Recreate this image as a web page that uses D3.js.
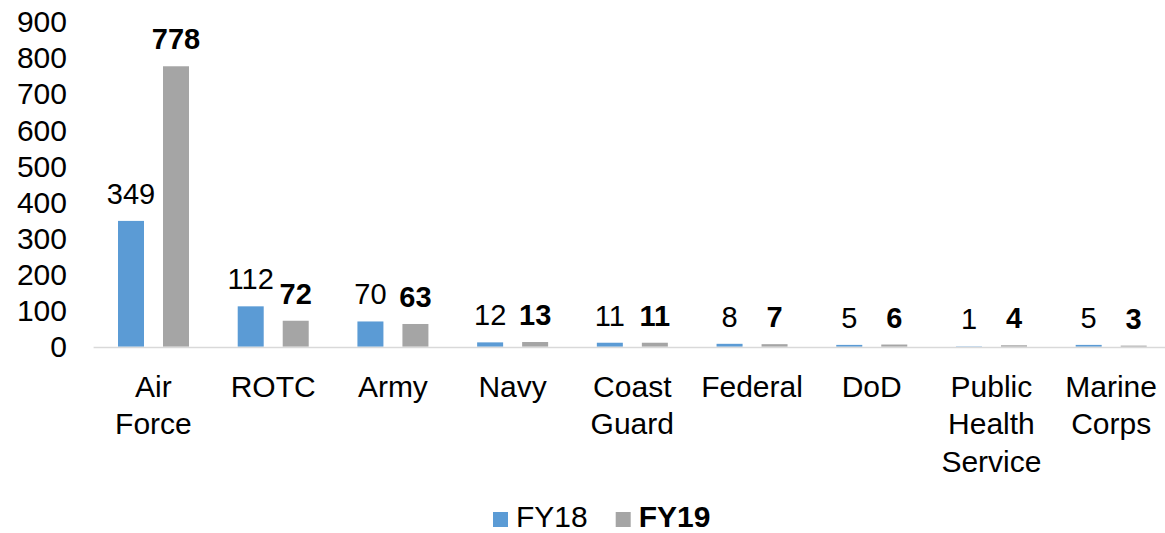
<!DOCTYPE html>
<html>
<head>
<meta charset="utf-8">
<script src="https://cdn.jsdelivr.net/npm/d3@7"></script>
<style>
  body { margin: 0; background: #fff; }
  text { font-family: Arial, "Liberation Sans", sans-serif; fill: #000; }
</style>
</head>
<body>
<script>
const categories = ["Air Force", "ROTC", "Army", "Navy", "Coast Guard", "Federal", "DoD", "Public Health Service", "Marine Corps"];
const fy18 = [349, 112, 70, 12, 11, 8, 5, 1, 5];
const fy19 = [778, 72, 63, 13, 11, 7, 6, 4, 3];
const seriesNames = ["FY18", "FY19"];
const yTicks = [0, 100, 200, 300, 400, 500, 600, 700, 800, 900];

const width = 1165, height = 533;
const colors = { FY18: "#5B9BD5", FY19: "#A5A5A5" };

const svg = d3.select("body").append("svg")
    .attr("width", width)
    .attr("height", height);

const x = d3.scaleBand().domain(categories).range([93.6, 1171]);
const y = d3.scaleLinear().domain([0, 900]).range([346.7, 22.3]);
// two bars of 26px with a 19px gap inside each category
const xs = d3.scaleBand().domain(seriesNames).range([24.4, 95.4]).paddingInner(19 / 45);

// y tick labels (no axis line, no gridlines)
const yAxis = svg.append("g")
    .attr("transform", "translate(67,0)")
    .call(d3.axisLeft(y).tickValues(yTicks).tickSize(0).tickPadding(0));
yAxis.select(".domain").remove();
yAxis.selectAll("text")
    .style("font-size", "30px")
    .style("font-family", "Arial, 'Liberation Sans', sans-serif")
    .attr("fill", "#000");

// bars
const rows = categories.map((c, i) => ({ cat: c, vals: [{ s: "FY18", v: fy18[i] }, { s: "FY19", v: fy19[i] }] }));

const groups = svg.selectAll(".cat")
    .data(rows)
    .enter()
    .append("g")
    .attr("class", "cat")
    .attr("transform", d => `translate(${x(d.cat)},0)`);

groups.selectAll("rect")
    .data(d => d.vals)
    .enter()
    .append("rect")
    .attr("x", d => xs(d.s))
    .attr("width", xs.bandwidth())
    .attr("y", d => y(d.v))
    .attr("height", d => y(0) - y(d.v))
    .attr("fill", d => colors[d.s]);

// value labels
groups.selectAll(".val")
    .data(d => d.vals)
    .enter()
    .append("text")
    .attr("class", "val")
    .attr("x", d => xs(d.s) + xs.bandwidth() / 2)
    .attr("y", d => y(d.v) - 17)
    .attr("text-anchor", "middle")
    .style("font-size", "29px")
    .style("font-weight", d => d.s === "FY19" ? "bold" : "normal")
    .text(d => d.v);

// x axis line
svg.append("line")
    .attr("x1", 93.6).attr("x2", width)
    .attr("y1", 347.5).attr("y2", 347.5)
    .attr("stroke", "#D9D9D9")
    .attr("stroke-width", 1.5);

// category labels
const catLabels = svg.selectAll(".catlabel")
    .data(categories)
    .enter()
    .append("text")
    .attr("class", "catlabel")
    .attr("text-anchor", "middle")
    .attr("x", d => x(d) + x.bandwidth() / 2)
    .attr("y", 396.5)
    .style("font-size", "30px");

catLabels.selectAll("tspan")
    .data(d => d.split(" "))
    .enter()
    .append("tspan")
    .attr("x", function () { return d3.select(this.parentNode).attr("x"); })
    .attr("dy", (d, i) => i === 0 ? 0 : 37.5)
    .text(d => d);

// legend
const legend = svg.append("g").attr("class", "legend");
const legendX = [493, 615.7];
seriesNames.forEach((s, i) => {
    legend.append("rect")
        .attr("x", legendX[i]).attr("y", 512)
        .attr("width", 15).attr("height", 15)
        .attr("fill", colors[s]);
    legend.append("text")
        .attr("x", legendX[i] + 23).attr("y", 527)
        .style("font-size", "30px")
        .style("font-weight", s === "FY19" ? "bold" : "normal")
        .text(s);
});
</script>
</body>
</html>
